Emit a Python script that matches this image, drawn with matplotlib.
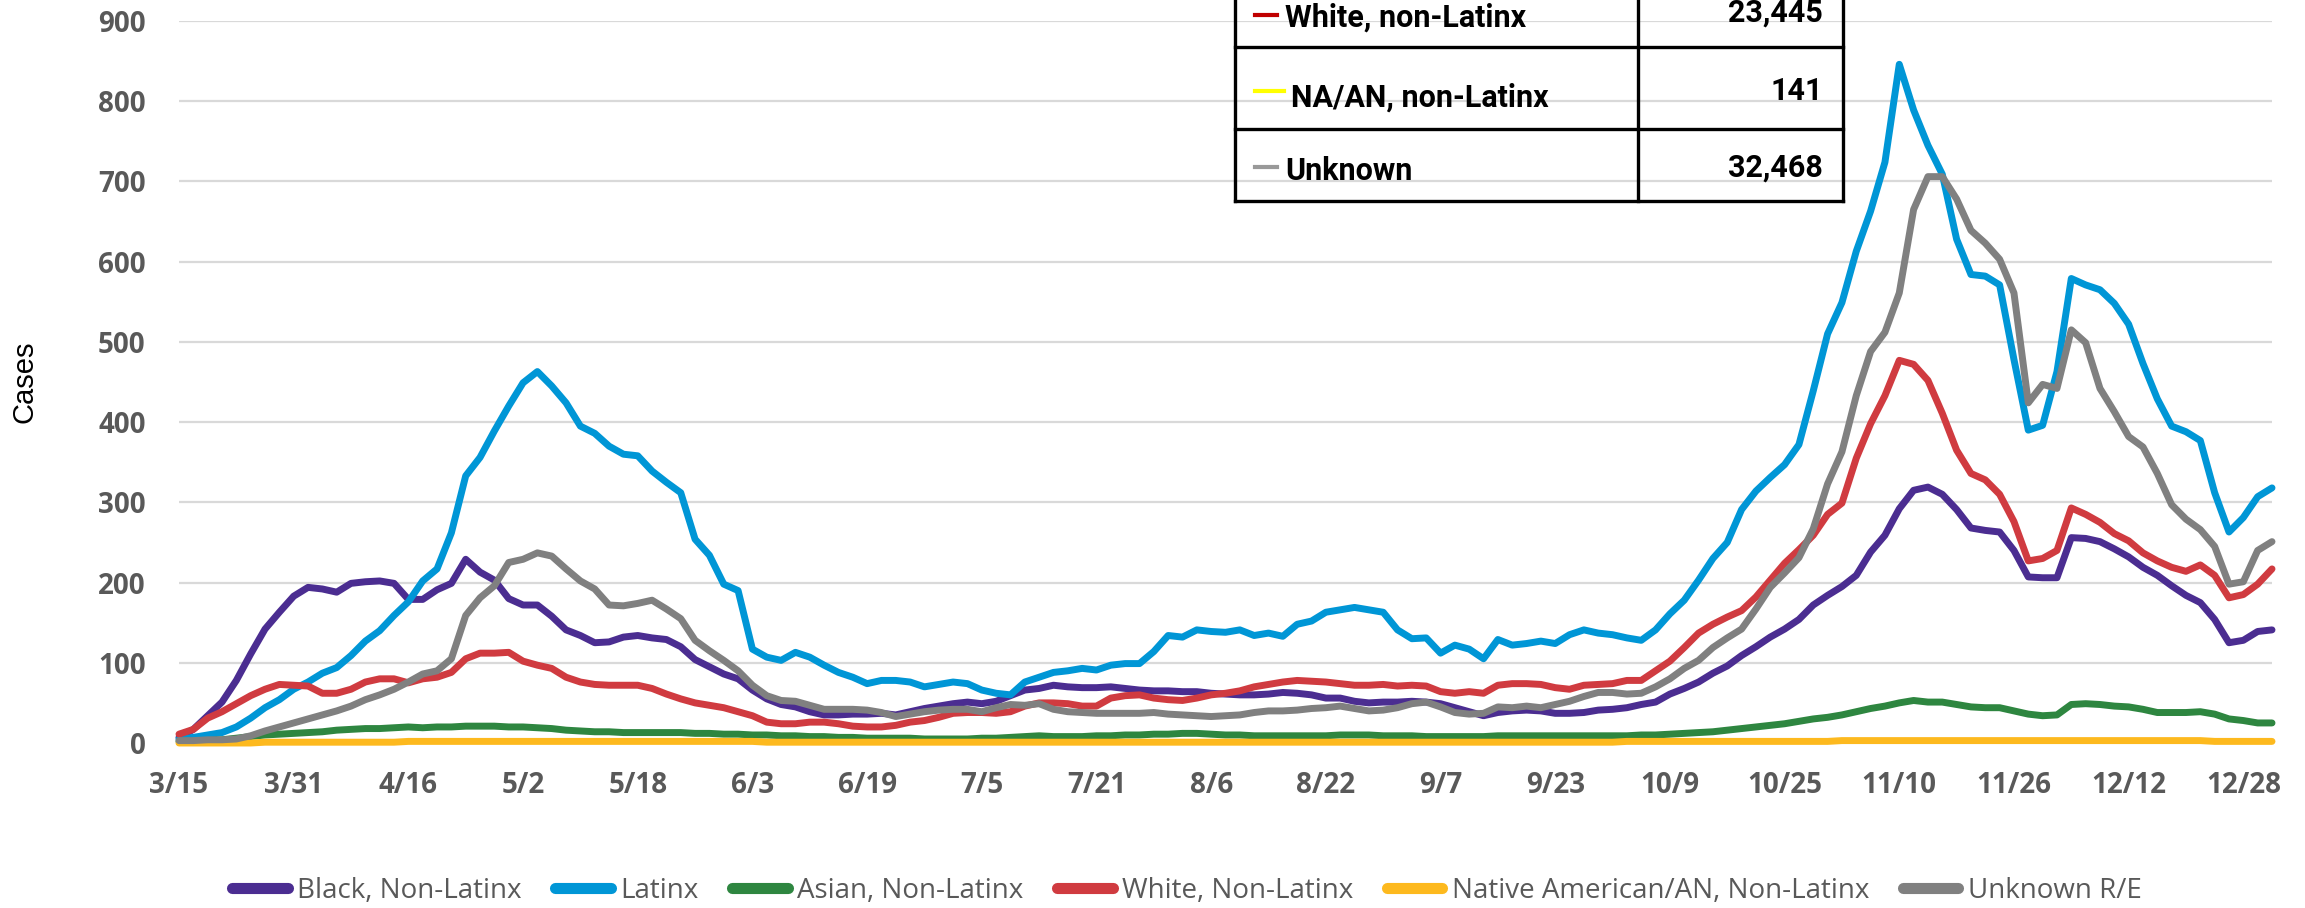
import pandas as pd
import matplotlib
matplotlib.use("Agg")
from matplotlib import pyplot as plt
from matplotlib.lines import Line2D

# daily cases (7-day avg), read every second day from 3/15/2020
black = [7, 17, 34, 51, 78, 111, 142, 163, 183, 194, 192, 188, 199, 201, 202, 199, 179, 179, 191, 199,
         229, 213, 203, 180, 172, 172, 158, 141, 134, 125, 126, 132, 134, 131, 129, 120, 104, 95, 86, 80,
         66, 55, 48, 45, 39, 35, 35, 36, 36, 37, 35, 39, 43, 46, 49, 51, 49, 52, 59, 66,
         68, 72, 70, 69, 69, 70, 68, 66, 65, 65, 64, 64, 62, 61, 60, 60, 61, 63, 62, 60,
         56, 56, 52, 50, 51, 51, 52, 51, 49, 44, 39, 34, 38, 40, 41, 40, 37, 37, 38, 41,
         42, 44, 48, 51, 61, 68, 76, 87, 96, 109, 120, 132, 142, 154, 172, 184, 195, 209, 238, 259,
         292, 315, 319, 310, 291, 268, 265, 263, 240, 207, 206, 206, 256, 255, 251, 242, 232, 219, 209, 196,
         184, 175, 154, 125, 128, 139, 141]
latinx = [5, 7, 10, 13, 20, 31, 44, 54, 67, 76, 87, 94, 109, 127, 140, 159, 176, 202, 217, 262,
          333, 356, 389, 420, 449, 463, 445, 424, 395, 386, 370, 360, 358, 339, 325, 312, 254, 234, 198, 190,
          117, 107, 103, 113, 107, 97, 88, 82, 74, 78, 78, 76, 70, 73, 76, 74, 66, 62, 60, 76,
          82, 88, 90, 93, 91, 97, 99, 99, 114, 134, 132, 141, 139, 138, 141, 134, 137, 133, 148, 152,
          163, 166, 169, 166, 163, 141, 130, 131, 112, 122, 117, 105, 129, 122, 124, 127, 124, 135, 141, 137,
          135, 131, 128, 141, 161, 178, 203, 230, 250, 291, 314, 331, 347, 372, 439, 510, 549, 613, 663, 724,
          846, 789, 745, 709, 628, 584, 582, 571, 478, 390, 396, 463, 579, 571, 565, 548, 522, 473, 429, 395,
          388, 377, 312, 263, 281, 307, 318]
asian = [2, 2, 3, 4, 6, 8, 10, 11, 12, 13, 14, 16, 17, 18, 18, 19, 20, 19, 20, 20,
         21, 21, 21, 20, 20, 19, 18, 16, 15, 14, 14, 13, 13, 13, 13, 13, 12, 12, 11, 11,
         10, 10, 9, 9, 8, 8, 7, 7, 6, 6, 6, 6, 5, 5, 5, 5, 6, 6, 7, 8,
         9, 8, 8, 8, 9, 9, 10, 10, 11, 11, 12, 12, 11, 10, 10, 9, 9, 9, 9, 9,
         9, 10, 10, 10, 9, 9, 9, 8, 8, 8, 8, 8, 9, 9, 9, 9, 9, 9, 9, 9,
         9, 9, 10, 10, 11, 12, 13, 14, 16, 18, 20, 22, 24, 27, 30, 32, 35, 39, 43, 46,
         50, 53, 51, 51, 48, 45, 44, 44, 40, 36, 34, 35, 48, 49, 48, 46, 45, 42, 38, 38,
         38, 39, 36, 30, 28, 25, 25]
white = [11, 17, 31, 39, 49, 59, 67, 73, 72, 71, 62, 62, 67, 76, 80, 80, 75, 80, 82, 88,
         105, 112, 112, 113, 102, 97, 93, 82, 76, 73, 72, 72, 72, 68, 61, 55, 50, 47, 44, 39,
         34, 26, 24, 24, 26, 26, 24, 21, 20, 20, 22, 26, 28, 32, 37, 38, 38, 37, 39, 46,
         50, 50, 49, 46, 46, 56, 59, 60, 56, 54, 53, 56, 60, 62, 65, 70, 73, 76, 78, 77,
         76, 74, 72, 72, 73, 71, 72, 71, 64, 62, 64, 62, 72, 74, 74, 73, 69, 67, 72, 73,
         74, 78, 78, 90, 102, 119, 137, 148, 157, 165, 182, 203, 224, 241, 259, 285, 299, 355, 398, 433,
         477, 472, 452, 411, 365, 336, 328, 310, 276, 227, 230, 240, 293, 285, 275, 261, 252, 237, 227, 219,
         214, 222, 209, 181, 185, 198, 217]
native = [0, 0, 0, 0, 0, 0, 1, 1, 1, 1, 1, 1, 1, 1, 1, 1, 2, 2, 2, 2,
          2, 2, 2, 2, 2, 2, 2, 2, 2, 2, 2, 2, 2, 2, 2, 2, 2, 2, 2, 2,
          2, 1, 1, 1, 1, 1, 1, 1, 1, 1, 1, 1, 1, 1, 1, 1, 1, 1, 1, 1,
          1, 1, 1, 1, 1, 1, 1, 1, 1, 1, 1, 1, 1, 1, 1, 1, 1, 1, 1, 1,
          1, 1, 1, 1, 1, 1, 1, 1, 1, 1, 1, 1, 1, 1, 1, 1, 1, 1, 1, 1,
          1, 2, 2, 2, 2, 2, 2, 2, 2, 2, 2, 2, 2, 2, 2, 2, 3, 3, 3, 3,
          3, 3, 3, 3, 3, 3, 3, 3, 3, 3, 3, 3, 3, 3, 3, 3, 3, 3, 3, 3,
          3, 3, 2, 2, 2, 2, 2]
unknown = [3, 3, 4, 4, 5, 9, 15, 20, 25, 30, 35, 40, 46, 54, 60, 67, 76, 86, 90, 105,
           159, 181, 196, 225, 229, 237, 233, 217, 202, 192, 172, 171, 174, 178, 167, 155, 128, 115, 103, 90,
           72, 59, 53, 52, 47, 42, 42, 42, 41, 38, 33, 36, 39, 41, 42, 42, 39, 44, 48, 47,
           49, 42, 39, 38, 37, 37, 37, 37, 38, 36, 35, 34, 33, 34, 35, 38, 40, 40, 41, 43,
           44, 46, 43, 40, 41, 44, 49, 51, 45, 38, 36, 37, 45, 44, 46, 44, 48, 52, 58, 63,
           63, 61, 62, 70, 80, 93, 103, 119, 131, 142, 167, 194, 212, 231, 267, 323, 363, 433, 488, 512,
           561, 665, 706, 706, 678, 639, 623, 603, 561, 424, 447, 442, 515, 499, 442, 413, 382, 369, 336, 297,
           279, 266, 245, 198, 201, 240, 251]

series_names = ["Black, Non-Latinx", "Latinx", "Asian, Non-Latinx", "White, Non-Latinx",
                "Native American/AN, Non-Latinx", "Unknown R/E"]
series_colors = ["#4B2D91", "#0096D6", "#2E8640", "#D03B40", "#FDB91E", "#808080"]

# visible rows of the totals table
table_labels = ["White, non-Latinx", "NA/AN, non-Latinx", "Unknown"]
table_totals = ["23,445", "141", "32,468"]
table_colors = ["#C00000", "#FFFF00", "#999999"]

W, H = 2305, 908
fig = plt.figure(figsize=(W / 100, H / 100), dpi=100)
ax = fig.add_axes([179 / W, 1 - 743 / H, (2272 - 179) / W, (743 - 21) / H])

dates = pd.date_range("2020-03-15", periods=len(black), freq="2D")
for vals, name, col in zip([black, latinx, asian, white, native, unknown], series_names, series_colors):
    ax.plot(dates, vals, color=col, lw=5.0, label=name, clip_on=False,
            solid_joinstyle="round", solid_capstyle="round", zorder=3)

ax.set_ylim(0, 900)
ax.set_yticks(range(0, 901, 100))
ax.set_xlim(dates[0], dates[-1])
ticks = pd.date_range("2020-03-15", "2020-12-28", freq="16D")
ax.set_xticks(ticks)
ax.set_xticklabels([f"{d.month}/{d.day}" for d in ticks])
ax.grid(axis="y", color="#D9D9D9", lw=1.6, zorder=0)
ax.set_axisbelow(True)
for s in ax.spines.values():
    s.set_visible(False)
ax.tick_params(length=0, labelsize=20, labelcolor="#595959")
ax.tick_params(axis="y", pad=24)
ax.tick_params(axis="x", pad=20)
for lab in ax.get_xticklabels() + ax.get_yticklabels():
    lab.set_fontfamily("Open Sans")
    lab.set_fontweight("bold")
ax.set_ylabel("Cases", fontsize=21, family="Liberation Sans", va="center")
ax.yaxis.set_label_coords((24 - 179) / (2272 - 179), 0.5)

leg = fig.legend(loc="center", bbox_to_anchor=(1187 / W, 1 - 891 / H), ncol=6, frameon=False,
                 prop={"family": "Open Sans", "size": 20}, handlelength=2.0, handletextpad=0.35,
                 columnspacing=1.2)
for t in leg.get_texts():
    t.set_color("#595959")
for h in leg.legend_handles:
    h.set_linewidth(8)


# totals table (only its lower part is inside the picture)
def fx(px):
    return px / W


def fy(py):
    return 1 - py / H


lk = dict(color="black", lw=2.4, transform=fig.transFigure, clip_on=False)
for xv in [1235, 1638, 1843]:
    fig.add_artist(Line2D([fx(xv), fx(xv)], [fy(-20), fy(201)], **lk))
for yv in [47, 129, 201]:
    fig.add_artist(Line2D([fx(1235), fx(1843)], [fy(yv), fy(yv)], **lk))

label_base = [27, 107, 180]
total_base = [22, 100, 177]
dash_y = [15, 91, 167]
dash_end = [1277, 1284, 1277]
text_x = [1285, 1291, 1285]
for i in range(3):
    fig.add_artist(Line2D([fx(1255), fx(dash_end[i])], [fy(dash_y[i]), fy(dash_y[i])],
                          color=table_colors[i], lw=3, transform=fig.transFigure))
    fig.text(fx(text_x[i]), fy(label_base[i]), table_labels[i], fontsize=22, fontweight="bold",
             family="Roboto", va="baseline", ha="left")
    fig.text(fx(1823), fy(total_base[i]), table_totals[i], fontsize=22, fontweight="bold",
             family="Roboto", va="baseline", ha="right")

fig.savefig("out.png", dpi=100)
